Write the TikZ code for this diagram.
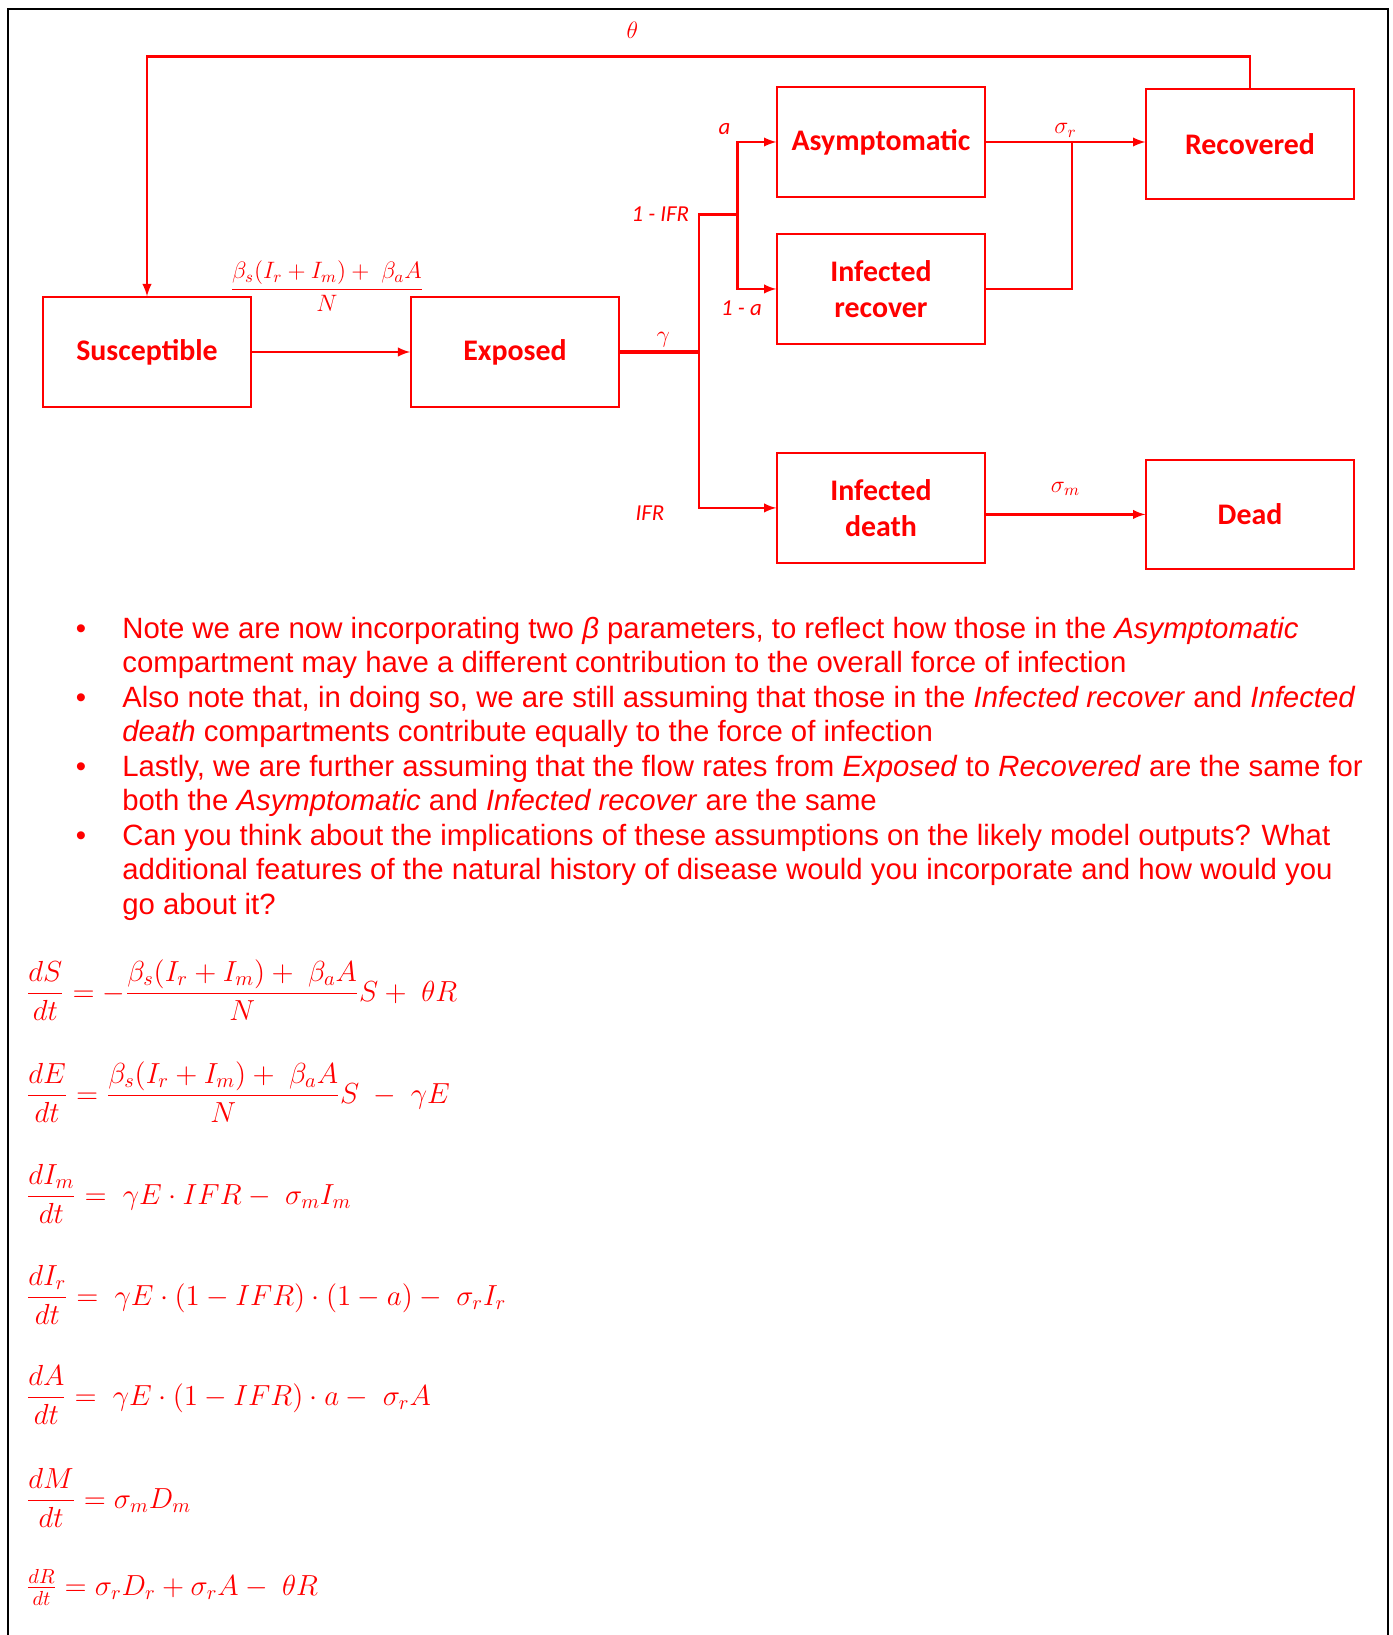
\RequirePackage{fix-cm}
\documentclass[tikz,border=0pt]{standalone}
\usepackage{amsmath,amssymb}
\usepackage[no-math]{fontspec}
\setmainfont{Liberation Sans}
\newfontfamily\boxfont{Carlito}
\usetikzlibrary{shapes,arrows,positioning}
\usepackage{xcolor}

\begin{document}
\begin{tikzpicture}[
        x=0.02cm, y=-0.02cm,
        comp/.style={rectangle, draw=red, line width=1.1pt, minimum width=4.15cm, minimum height=2.19cm, text=red, align=center, font=\boxfont\bfseries\fontsize{17}{20.7}\selectfont},
        line/.style={draw=red, line width=1.4pt},
        flow/.style={line, -latex},
        rate/.style={text=red, inner sep=2pt, font=\boxfont\itshape\fontsize{13}{15}\selectfont},
        mrate/.style={text=red, inner sep=2pt, font=\fontsize{13.5}{16}\selectfont},
        note/.style={text=red, align=left, inner sep=0pt, anchor=north west, font=\fontsize{16.7}{19.6}\selectfont},
        dot/.style={text=red, inner sep=0pt, anchor=base, font=\fontsize{16.7}{19.6}\selectfont},
        eqn/.style={text=red, inner sep=0pt, anchor=base west, font=\fontsize{16.5}{20}\selectfont}
    ]
    \useasboundingbox (0,0) rectangle (1392,1635);
    \draw[line width=1.1pt] (8,1645) -- (8,9) -- (1388,9) -- (1388,1645);

    % compartments
    \node [comp] (susc) at (147,352) {Susceptible};
    \node [comp, right of=susc, node distance=7.36cm] (expo) {Exposed};
    \node [comp] (asym) at (881,142) {Asymptomatic};
    \node [comp, below of=asym, node distance=2.94cm] (infrec) {Infected\\recover};
    \node [comp, below of=infrec, node distance=4.38cm] (infdeath) {Infected\\death};
    \node [comp] (recov) at (1250,144) {Recovered};
    \node [comp, below of=recov, node distance=7.41cm] (dead) {Dead};

    \coordinate [right=1.59cm of expo.east] (split);
    \coordinate [above=2.75cm of split] (upper);
    \coordinate [right=0.77cm of upper] (fork);
    \coordinate [right=1.73cm of asym.east] (merge);

    % flows
    \draw [flow] (recov.north) -- ++(0,-32) -| node[mrate, above=0.26cm, pos=0.28] (thetalab) {$\theta$} (susc.north);
    \draw [flow] (susc) -- node[mrate, above=0.72cm, xshift=-0.08cm] (foilab) {$\dfrac{\beta_s(I_r+I_m)+\ \beta_a A}{N}$} (expo);
    \draw [line, line width=2pt] (expo.east) -- node[mrate, above, xshift=0.08cm] (gammalab) {$\gamma$} (split);
    \draw [line] (split) |- node[rate, left=3pt, pos=0.5] (ifrlab) {1 - IFR} (fork);
    \draw [flow] (fork) |- node[rate, above left=2pt, pos=0.5] (alab) {a} (asym.west);
    \draw [flow] (fork) |- node[rate, below=4pt, pos=0.55] (nalab) {1 - a} (infrec.west);
    \draw [flow] (split) |- node[rate, left=0.6cm, pos=0.5, yshift=-3pt] (deathlab) {IFR} (infdeath.west);
    \draw [flow] (asym.east) -- node[mrate, above] (srlab) {$\sigma_r$} (asym.east -| recov.west);
    \draw [line] (infrec.east) -| (merge);
    \draw [flow] (dead.west -| infdeath.east) -- node[mrate, above=8pt] (smlab) {$\sigma_m$} (dead.west);

    % notes
    \node [note] (item1) at (122,614) {\strut Note we are now incorporating two \textit{β} parameters, to reflect how those in the \textit{Asymptomatic}\\compartment may have a different contribution to the overall force of infection};
    \node [note] (item2) at (122,683) {\strut Also note that, in doing so, we are still assuming that those in the \textit{Infected recover} and \textit{Infected}\\\textit{death} compartments contribute equally to the force of infection};
    \node [note] (item3) at (122,752) {\strut Lastly, we are further assuming that the flow rates from \textit{Exposed} to \textit{Recovered} are the same for\\both the \textit{Asymptomatic} and \textit{Infected recover} are the same};
    \node [note] (item4) at (122,821) {\strut Can you think about the implications of these assumptions on the likely model outputs? What\\additional features of the natural history of disease would you incorporate and how would you\\go about it?};
    \node [dot] (dot1) at (81,638) {\textbullet};
    \node [dot] (dot2) at (81,707) {\textbullet};
    \node [dot] (dot3) at (81,776) {\textbullet};
    \node [dot] (dot4) at (81,845) {\textbullet};

    % equations
    \node [eqn] (eqs) at (26,1001) {$\displaystyle \frac{dS}{dt}=-\frac{\beta_s(I_r+I_m)+\ \beta_a A}{N}S+\ \theta R$};
    \node [eqn] (eqe) at (26,1103) {$\displaystyle \frac{dE}{dt}=\frac{\beta_s(I_r+I_m)+\ \beta_a A}{N}S\ -\ \gamma E$};
    \node [eqn] (eqim) at (26,1204) {$\displaystyle \frac{dI_m}{dt}=\ \gamma E\cdot IFR-\ \sigma_m I_m$};
    \node [eqn] (eqir) at (26,1305) {$\displaystyle \frac{dI_r}{dt}=\ \gamma E\cdot(1-IFR)\cdot(1-a)-\ \sigma_r I_r$};
    \node [eqn] (eqa) at (26,1405) {$\displaystyle \frac{dA}{dt}=\ \gamma E\cdot(1-IFR)\cdot a-\ \sigma_r A$};
    \node [eqn] (eqm) at (26,1508) {$\displaystyle \frac{dM}{dt}=\sigma_m D_m$};
    \node [eqn] (eqr) at (26,1595) {$\displaystyle \tfrac{dR}{dt}=\sigma_r D_r+\sigma_r A-\ \theta R$};
\end{tikzpicture}
\end{document}
